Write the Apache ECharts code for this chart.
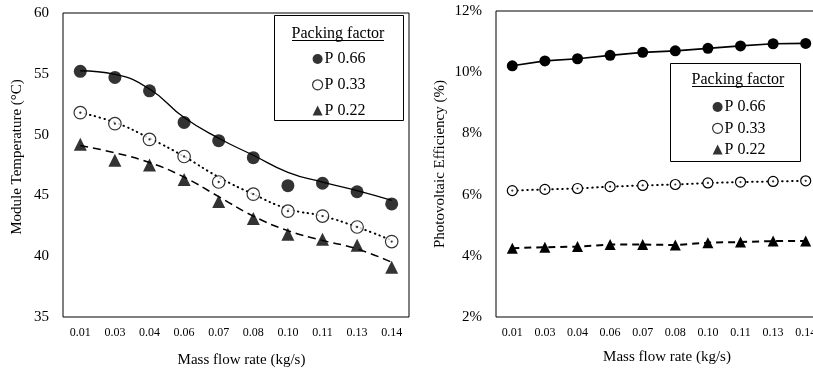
<!DOCTYPE html>
<html><head><meta charset="utf-8">
<script src="https://cdn.jsdelivr.net/npm/echarts@6/dist/echarts.min.js"></script>
<style>html,body{margin:0;padding:0;background:#fff}#c{width:813px;height:373px}</style>
</head><body><div id="c"></div>
<script>
// ---- data ----
const categories = ['0.01','0.03','0.04','0.06','0.07','0.08','0.10','0.11','0.13','0.14'];
const tempTicks = [35, 40, 45, 50, 55, 60];
const effTicks = [2, 4, 6, 8, 10, 12];
const seriesNames = ['P 0.66', 'P 0.33', 'P 0.22'];
// Module temperature markers (°C)
const tempP066 = [55.2, 54.7, 53.6, 51.0, 49.5, 48.1, 45.8, 46.0, 45.3, 44.3];
const tempP033 = [51.8, 50.9, 49.6, 48.2, 46.1, 45.1, 43.7, 43.3, 42.4, 41.2];
const tempP022 = [49.2, 47.9, 47.5, 46.3, 44.5, 43.1, 41.8, 41.4, 40.9, 39.1];
// Trend lines (°C)
const trendP066 = [55.25, 54.95, 53.75, 51.4, 49.7, 48.3, 46.9, 46.1, 45.4, 44.6];
const trendP033 = [51.8, 51.0, 49.7, 48.2, 46.5, 45.1, 43.9, 43.3, 42.4, 41.3];
const trendP022 = [49.1, 48.5, 47.7, 46.5, 44.9, 43.3, 42.1, 41.3, 40.6, 39.5];
// Photovoltaic efficiency (%)
const effP066 = [10.21, 10.37, 10.44, 10.55, 10.65, 10.70, 10.78, 10.86, 10.93, 10.94];
const effP033 = [6.13, 6.17, 6.20, 6.26, 6.30, 6.33, 6.38, 6.41, 6.43, 6.45];
const effP022 = [4.25, 4.28, 4.30, 4.37, 4.37, 4.35, 4.43, 4.45, 4.48, 4.48];

const FONT = 'Liberation Serif';
const BLACK = '#000';
const chart = echarts.init(document.getElementById('c'), null, {renderer: 'canvas'});

function xAxisCfg(gi, gap, padLeft) {
  return {
    type: 'category', gridIndex: gi, data: categories, boundaryGap: true,
    axisLine: {show: false}, axisTick: {show: false}, splitLine: {show: false},
    axisLabel: {fontFamily: FONT, fontSize: 12, color: BLACK, margin: 10, interval: 0},
    name: 'Mass flow rate (kg/s)', nameLocation: 'middle', nameGap: gap,
    nameTextStyle: {fontFamily: FONT, fontSize: 15, color: BLACK, padding: [0, 0, 0, padLeft]}
  };
}
function yAxisCfg(gi, ticks, name, gap, fmt, pad) {
  return {
    type: 'value', gridIndex: gi, min: ticks[0], max: ticks[ticks.length - 1],
    interval: ticks[1] - ticks[0],
    axisLine: {show: false}, axisTick: {show: false}, splitLine: {show: false},
    axisLabel: {fontFamily: FONT, fontSize: 15, color: BLACK, margin: 14, formatter: fmt},
    name: name, nameLocation: 'middle', nameGap: gap,
    nameTextStyle: {fontFamily: FONT, fontSize: 15, color: BLACK, padding: pad}
  };
}
function legendCfg(left, top, gap) {
  return {
    orient: 'vertical', left: left, top: top, itemWidth: 10, itemHeight: 10, itemGap: gap,
    padding: 0, selectedMode: false,
    textStyle: {fontFamily: FONT, fontSize: 16, color: BLACK, lineHeight: 16, padding: [0, 0, 0, -3]},
    data: [
      {name: seriesNames[0], icon: 'circle', itemStyle: {color: BLACK, borderWidth: 0}},
      {name: seriesNames[1], icon: 'circle', itemStyle: {color: '#fff', borderColor: BLACK, borderWidth: 1.2}},
      {name: seriesNames[2], icon: 'triangle', itemStyle: {color: BLACK, borderWidth: 0}}
    ]
  };
}
function legendBox(x, y, w, h, cx, ty) {
  return [
    {type: 'rect', shape: {x: x + 0.5, y: y + 0.5, width: w, height: h}, style: {fill: '#fff', stroke: BLACK, lineWidth: 1}, z: 0},
    {type: 'text', x: cx, y: ty, style: {text: 'Packing factor', font: '16px "Liberation Serif"', fill: BLACK, align: 'center', verticalAlign: 'middle'}, z: 1},
    {type: 'line', shape: {x1: cx - 46, y1: ty + 6.5, x2: cx + 46, y2: ty + 6.5}, style: {stroke: BLACK, lineWidth: 1}, z: 1}
  ];
}

const lineBase = {symbol: 'none', silent: true, z: 2};
const option = {
  animation: false,
  backgroundColor: '#fff',
  textStyle: {fontFamily: FONT, color: BLACK},
  grid: [
    {left: 63, top: 13, width: 346, height: 304, show: true, borderColor: BLACK, borderWidth: 1, outerBoundsMode: 'none', containLabel: false},
    {left: 496, top: 11, width: 326, height: 306, show: true, borderColor: BLACK, borderWidth: 1, outerBoundsMode: 'none', containLabel: false}
  ],
  xAxis: [xAxisCfg(0, 36, 11), xAxisCfg(1, 33, 16)],
  yAxis: [
    yAxisCfg(0, tempTicks, 'Module Temperature (°C)', 38, '{value}', [0, 0, 0, 16]),
    yAxisCfg(1, effTicks, 'Photovoltaic Efficiency (%)', 48, '{value}%', [0, 0, 0, 0])
  ],
  legend: [legendCfg(312, 51, 9.8), legendCfg(712, 99, 5.3)],
  graphic: {elements: [].concat(legendBox(274, 15, 129, 105, 338, 34), legendBox(670, 63, 130, 98, 738, 80))},
  series: [
    // left chart trend lines
    Object.assign({type: 'line', name: 'trend 0.66', xAxisIndex: 0, yAxisIndex: 0, data: trendP066, smooth: 0.5,
      lineStyle: {color: BLACK, width: 1.3, type: 'solid'}}, lineBase),
    Object.assign({type: 'line', name: 'trend 0.33', xAxisIndex: 0, yAxisIndex: 0, data: trendP033, smooth: 0.5,
      lineStyle: {color: BLACK, width: 2, type: [0.5, 4.5], cap: 'round'}}, lineBase),
    Object.assign({type: 'line', name: 'trend 0.22', xAxisIndex: 0, yAxisIndex: 0, data: trendP022, smooth: 0.5,
      lineStyle: {color: BLACK, width: 1.5, type: [8, 5]}}, lineBase),
    // left chart markers
    {type: 'scatter', name: seriesNames[0], xAxisIndex: 0, yAxisIndex: 0, data: tempP066, symbol: 'circle', symbolSize: 13,
      itemStyle: {color: BLACK}, z: 3},
    {type: 'scatter', name: seriesNames[1], xAxisIndex: 0, yAxisIndex: 0, data: tempP033, symbol: 'circle', symbolSize: 12.5,
      itemStyle: {color: '#fff', borderColor: BLACK, borderWidth: 1.2}, z: 3},
    {type: 'scatter', name: 'dot 0.33', xAxisIndex: 0, yAxisIndex: 0, data: tempP033, symbol: 'circle', symbolSize: 2.3,
      itemStyle: {color: BLACK}, z: 4, silent: true},
    {type: 'scatter', name: seriesNames[2], xAxisIndex: 0, yAxisIndex: 0, data: tempP022, symbol: 'triangle', symbolSize: 13,
      itemStyle: {color: BLACK}, z: 3},
    // right chart
    {type: 'line', name: seriesNames[0], xAxisIndex: 1, yAxisIndex: 1, data: effP066, symbol: 'circle', symbolSize: 11,
      lineStyle: {color: BLACK, width: 1.7}, itemStyle: {color: BLACK}, z: 3},
    {type: 'line', name: seriesNames[1], xAxisIndex: 1, yAxisIndex: 1, data: effP033, symbol: 'circle', symbolSize: 10,
      lineStyle: {color: BLACK, width: 2, type: [0.5, 4.5], cap: 'round'},
      itemStyle: {color: '#fff', borderColor: BLACK, borderWidth: 1.2}, z: 3},
    {type: 'scatter', name: 'dot 0.33 r', xAxisIndex: 1, yAxisIndex: 1, data: effP033, symbol: 'circle', symbolSize: 2.2,
      itemStyle: {color: BLACK}, z: 4, silent: true},
    {type: 'line', name: seriesNames[2], xAxisIndex: 1, yAxisIndex: 1, data: effP022, symbol: 'triangle', symbolSize: 11,
      lineStyle: {color: BLACK, width: 2, type: [7, 5]}, itemStyle: {color: BLACK}, z: 3}
  ]
};
chart.setOption(option);
</script>
</body></html>
